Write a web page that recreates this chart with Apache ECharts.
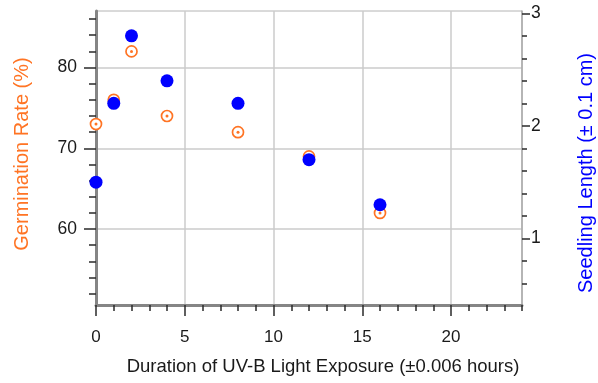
<!DOCTYPE html>
<html>
<head>
<meta charset="utf-8">
<script src="https://cdn.jsdelivr.net/npm/echarts@6/dist/echarts.min.js"></script>
<style>
html,body{margin:0;padding:0;background:#fff;}
#chart{width:598px;height:383px;}
</style>
</head>
<body>
<div id="chart"></div>
<script>
const durations = [0, 1, 2, 4, 8, 12, 16];
const germinationRate = [73, 76, 82, 74, 72, 69, 62];
const seedlingLength = [1.5, 2.2, 2.8, 2.4, 2.2, 1.7, 1.3];

const xMajorTicks = [0, 5, 10, 15, 20];
const xMinorTicks = [1, 2, 3, 4, 6, 7, 8, 9, 11, 12, 13, 14, 16, 17, 18, 19, 21, 22, 23, 24];
const leftMajorTicks = [60, 70, 80];
const leftMinorTicks = [52, 54, 56, 58, 62, 64, 66, 68, 72, 74, 76, 78, 82, 84, 86];
const rightMajorTicks = [1, 2, 3];
const rightMinorTicks = [0.6, 0.8, 1.2, 1.4, 1.6, 1.8, 2.2, 2.4, 2.6, 2.8];

const xTitle = 'Duration of UV-B Light Exposure (\u00b10.006 hours)';
const leftTitle = 'Germination Rate (%)';
const rightTitle = 'Seedling Length (\u00b1 0.1 cm)';

const ORANGE = '#ff7424';
const BLUE = '#0000ff';
const FONT = 'Liberation Sans, Arial, Helvetica, sans-serif';
const TICK = '#2a2a2a';

const germPairs = durations.map((d, i) => [d, germinationRate[i]]);
const seedPairs = durations.map((d, i) => [d, seedlingLength[i]]);

const chart = echarts.init(document.getElementById('chart'), null, {renderer: 'canvas'});

const X_MIN = 0, X_MAX = 24;
const L_MIN = 50.6, L_MAX = 87;
const R_MIN = 0.41, R_MAX = 3.02;

chart.setOption({
  animation: false,
  backgroundColor: '#fff',
  textStyle: {fontFamily: FONT},
  grid: {left: 96, right: 76, top: 11, bottom: 78, show: true, borderColor: '#b4b4b4', borderWidth: 1, containLabel: false},
  xAxis: [
    {
      type: 'value', min: X_MIN, max: X_MAX, position: 'bottom',
      axisLine: {show: true, onZero: false, lineStyle: {color: '#858585', width: 3}},
      axisTick: {show: true, customValues: xMajorTicks, length: 11, lineStyle: {color: TICK, width: 1.5}},
      axisLabel: {show: true, customValues: xMajorTicks, margin: 24, fontSize: 17, color: '#1a1a1a', fontFamily: FONT},
      splitLine: {show: true, lineStyle: {color: '#cbcbcb', width: 1.5}}
    },
    {
      type: 'value', min: X_MIN, max: X_MAX, position: 'bottom',
      axisLine: {show: false, onZero: false},
      axisTick: {show: true, customValues: xMinorTicks, length: 6, lineStyle: {color: TICK, width: 1.5}},
      axisLabel: {show: false},
      splitLine: {show: false}
    }
  ],
  yAxis: [
    {
      type: 'value', min: L_MIN, max: L_MAX, position: 'left',
      axisLine: {show: true, onZero: false, lineStyle: {color: '#858585', width: 3}},
      axisTick: {show: true, customValues: leftMajorTicks, length: 12, lineStyle: {color: TICK, width: 1.5}},
      axisLabel: {show: true, customValues: leftMajorTicks, margin: 19, fontSize: 17.5, color: '#1a1a1a', fontFamily: FONT},
      splitLine: {show: true, lineStyle: {color: '#cbcbcb', width: 1.5}}
    },
    {
      type: 'value', min: L_MIN, max: L_MAX, position: 'left',
      axisLine: {show: false, onZero: false},
      axisTick: {show: true, customValues: leftMinorTicks, length: 7, lineStyle: {color: TICK, width: 1.5}},
      axisLabel: {show: false},
      splitLine: {show: false}
    },
    {
      type: 'value', min: R_MIN, max: R_MAX, position: 'right',
      axisLine: {show: true, onZero: false, lineStyle: {color: '#a8a8a8', width: 1.5}},
      axisTick: {show: true, customValues: rightMajorTicks, length: 8, lineStyle: {color: TICK, width: 1.5}},
      axisLabel: {show: true, customValues: rightMajorTicks, margin: 9, fontSize: 17.5, color: '#1a1a1a', fontFamily: FONT},
      splitLine: {show: false}
    },
    {
      type: 'value', min: R_MIN, max: R_MAX, position: 'right',
      axisLine: {show: false, onZero: false},
      axisTick: {show: true, customValues: rightMinorTicks, length: 5, lineStyle: {color: TICK, width: 1.5}},
      axisLabel: {show: false},
      splitLine: {show: false}
    }
  ],
  graphic: [
    {type: 'text', x: 323, y: 367, silent: true,
     style: {text: xTitle, align: 'center', verticalAlign: 'middle', fontSize: 18.5, fontFamily: FONT, fill: '#1a1a1a'}},
    {type: 'text', x: 22, y: 154, rotation: Math.PI / 2, silent: true,
     style: {text: leftTitle, align: 'center', verticalAlign: 'middle', fontSize: 20, fontFamily: FONT, fill: ORANGE}},
    {type: 'text', x: 586, y: 173, rotation: Math.PI / 2, silent: true,
     style: {text: rightTitle, align: 'center', verticalAlign: 'middle', fontSize: 20, fontFamily: FONT, fill: BLUE}}
  ],
  series: [
    {
      name: 'Germination ring', type: 'scatter', xAxisIndex: 0, yAxisIndex: 0, silent: true,
      data: germPairs, symbol: 'circle', symbolSize: 11,
      itemStyle: {color: '#ffffff', borderColor: ORANGE, borderWidth: 1.7, opacity: 1}, z: 2
    },
    {
      name: 'Germination dot', type: 'scatter', xAxisIndex: 0, yAxisIndex: 0, silent: true,
      data: germPairs, symbol: 'circle', symbolSize: 3,
      itemStyle: {color: ORANGE, opacity: 1}, z: 3
    },
    {
      name: 'Seedling length', type: 'scatter', xAxisIndex: 0, yAxisIndex: 2, silent: true,
      data: seedPairs, symbol: 'circle', symbolSize: 13,
      itemStyle: {color: BLUE, opacity: 1}, z: 4
    }
  ]
});
</script>
</body>
</html>
